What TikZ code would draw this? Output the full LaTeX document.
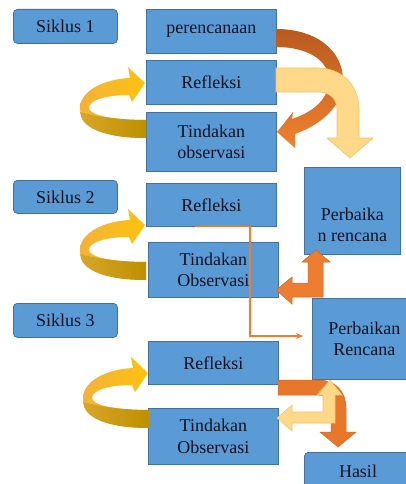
\documentclass[tikz,border=0pt]{standalone}
\usepackage{fontspec}
\setmainfont{Liberation Serif}
\usetikzlibrary{arrows.meta,calc}
\definecolor{boxblue}{HTML}{5B9BD5}
\definecolor{boxline}{HTML}{41719C}
\definecolor{txtc}{HTML}{111122}
\definecolor{orangeA}{HTML}{ED7D31}
\definecolor{orangeAline}{HTML}{C96A25}
\definecolor{orangeB}{HTML}{E8772C}
\definecolor{lightY}{HTML}{FFD88A}
\definecolor{lightYline}{HTML}{F7C462}
\definecolor{loopL}{HTML}{F3B23A}
\definecolor{loopR}{HTML}{FFC20E}
\definecolor{frontL}{HTML}{D8A628}
\definecolor{frontR}{HTML}{BF8F00}
\definecolor{curveTop}{HTML}{B95A1E}
\definecolor{curveBot}{HTML}{F0812F}
\newcommand\yloop[1]{%
  \shade[left color=loopL, right color=loopR, shift={#1}]
    (146,138) .. controls (102,138) and (80,125) .. (80,108)
    .. controls (80,91) and (104,79) .. (130,78)
    -- (128,67) -- (145,83) -- (132,102) -- (129,95)
    .. controls (106,95) and (89,100) .. (89,108)
    .. controls (89,115) and (112,120) .. (146,120) -- cycle;
  \shade[left color=frontL, right color=frontR, shift={#1}]
    (146,138) .. controls (102,138) and (81,127) .. (80,112)
    .. controls (86,114) and (112,120) .. (146,120) -- cycle;}
\begin{document}
\begin{tikzpicture}[x=1pt,y=-1pt,
  box/.style={draw=boxline, fill=boxblue, line width=0.8pt, inner sep=0pt,
    font=\fontsize{18}{21.5}\selectfont, text=txtc, align=center, anchor=north west},
  rbox/.style={box, rounded corners=4pt},
  txt/.style={font=\fontsize{18}{21.5}\selectfont, text=txtc, align=center, inner sep=0pt}]
\useasboundingbox (0,0) rectangle (406,484);
\clip (0,0) rectangle (406,484);
\fill[white] (0,0) rectangle (406,484);

% boxes
\node[rbox, minimum width=104pt, minimum height=34pt] (s1) at (13,9) {Siklus 1};
\node[box, minimum width=130pt, minimum height=44pt] (pl) at (146,9) {perencanaan};
\node[box, minimum width=130pt, minimum height=44pt] (r1) at (146,60) {Refleksi};
\node[box, minimum width=130pt, minimum height=59pt] (t1) at (146,112) {Tindakan\\observasi};
\node[rbox, minimum width=104pt, minimum height=33pt] (s2) at (13,180) {Siklus 2};
\node[box, minimum width=130pt, minimum height=43pt] (r2) at (146,183) {Refleksi};
\node[box, minimum width=130pt, minimum height=55pt] (t2) at (148,242) {Tindakan\\Observasi};
\node[box, minimum width=96pt, minimum height=87pt] (p1) at (304,167) {};
\node[txt] (p1t) at ($(p1.center)+(0,14)$) {Perbaika\\n rencana};
\node[rbox, minimum width=104pt, minimum height=34pt] (s3) at (13,303) {Siklus 3};
\node[box, minimum width=104pt, minimum height=81pt] (p2) at (312,298) {Perbaikan\\Rencana};
\node[box, minimum width=130pt, minimum height=43pt] (r3) at (148,341) {Refleksi};
\node[box, minimum width=130pt, minimum height=56pt] (t3) at (148,408) {Tindakan\\Observasi};
\node[rbox, minimum width=108pt, minimum height=45pt] (h) at (304,452) {};
\node[txt, anchor=base] (ht) at (358,477) {Hasil};

% yellow loop arrows (refleksi <- tindakan)
\yloop{(0,0)}
\yloop{(0,142)}
\yloop{(3,290)}

% cycle 1 : perencanaan -> tindakan (curved)
\shade[top color=curveTop, bottom color=curveBot]
  (276,29) .. controls (318,29) and (343,52) .. (343,80)
  .. controls (343,106) and (322,124) .. (295,134)
  -- (295,148) -- (277,132) -- (293,112) -- (292,119)
  .. controls (316,111) and (329,97) .. (329,80)
  .. controls (329,62) and (310,47) .. (276,47) -- cycle;

% refleksi 1 -> perbaikan (light bent arrow)
\filldraw[fill=lightY, draw=lightYline, line width=0.6pt]
  (276,68) -- (318,68) .. controls (342,68) and (359,85) .. (359,110)
  -- (359,138) -- (373,138) -- (350,158) -- (327,138) -- (337,138)
  -- (337,110) .. controls (337,99) and (330,92) .. (318,92)
  -- (276,92) -- cycle;

% cycle 2 : L arrow between tindakan 2 and perbaikan 1
\filldraw[fill=orangeA, draw=orangeAline, line width=0.5pt]
  (276,290) -- (292,277) -- (292,283) -- (308,283) -- (308,262)
  -- (302,262) -- (316,250) -- (330,262) -- (323,262) -- (323,297)
  -- (292,297) -- (292,304) -- cycle;

% cycle 3 : refleksi 3 -> hasil
\filldraw[fill=orangeB, draw=orangeAline, line width=0.5pt]
  (278,380) -- (318,380) .. controls (336,380) and (346,392) .. (346,408)
  -- (346,432) -- (356,432) -- (338,447) -- (320,432) -- (331,432)
  -- (331,408) .. controls (331,400) and (326,395) .. (318,395)
  -- (278,395) -- cycle;
\filldraw[fill=lightY, draw=lightYline, line width=0.6pt]
  (277,418) -- (292,405) -- (292,412) -- (323,412) -- (323,395)
  -- (317,395) -- (330,380) -- (342,395) -- (335,395) -- (335,423)
  -- (292,423) -- (292,431) -- cycle;

% thin connector refleksi 2 -> perbaikan 2
\coordinate (c0) at ($(r2.south west)+(49,0)$);
\coordinate (c1) at ($(r2.south west)+(104,0)$);
\coordinate (c2) at (250,336);
\coordinate (c3) at (303,336);
\draw[orangeA, line width=1.2pt, -{Stealth[length=7pt,width=6pt]}]
  (c0) -- (c1) -- (c2) -- (c3);
\end{tikzpicture}
\end{document}
